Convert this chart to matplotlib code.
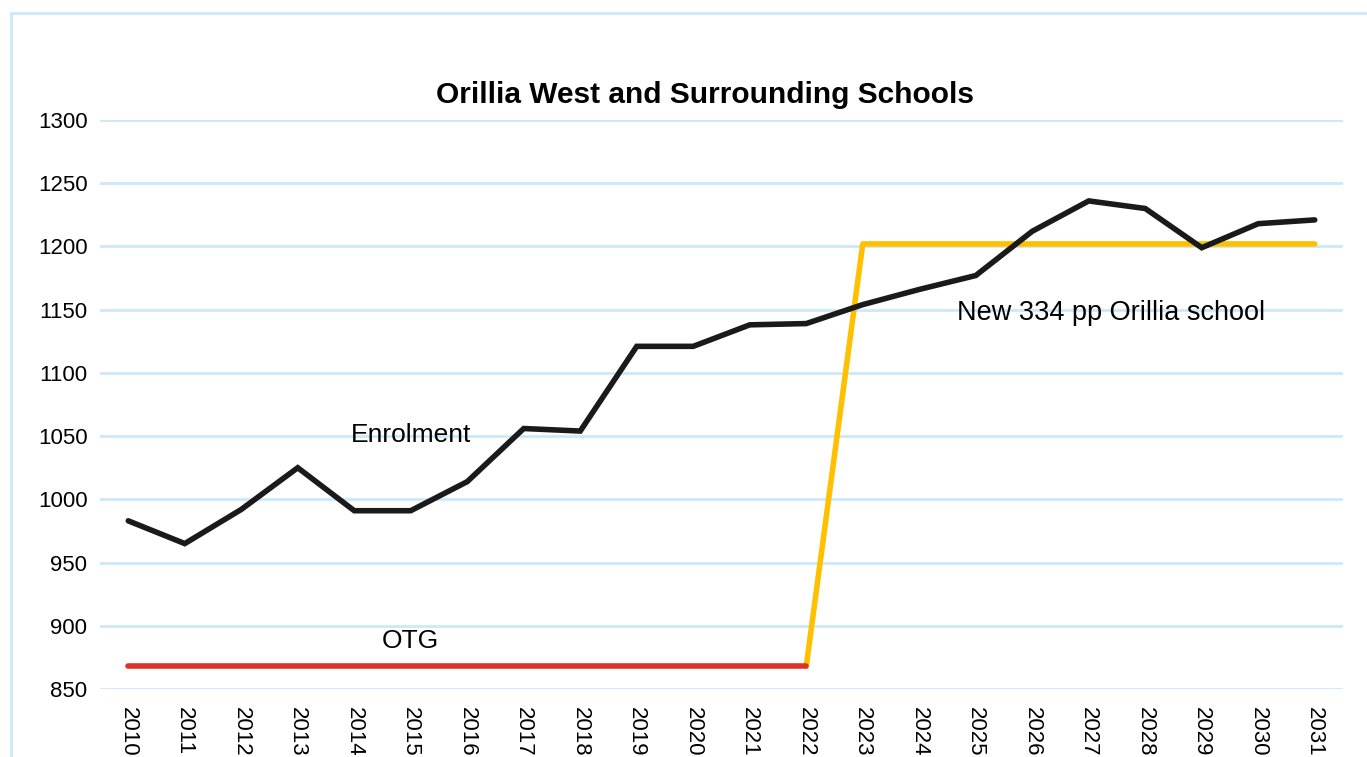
import numpy as np
import matplotlib.pyplot as plt
from matplotlib.patches import Rectangle

plt.rcParams['font.family'] = ['Liberation Sans', 'DejaVu Sans']

years = [str(y) for y in range(2010, 2032)]
enrolment = [983, 965, 992, 1025, 991, 991, 1014, 1056, 1054, 1121, 1121,
             1138, 1139, 1154, 1166, 1177, 1212, 1236, 1230, 1199, 1218, 1221]
otg = [868] * 13          # 2010-2022
new_cap = [868] + [1202] * 9   # 2022-2031

fig = plt.figure(figsize=(13.67, 7.57), dpi=100)
ax = fig.add_axes([100 / 1367, 1 - 689 / 757, 1243 / 1367, 569 / 757])

# chart-area border (runs off the right and bottom of the picture)
fig.patches.append(Rectangle((11 / 1367, -0.1), 1.2, 1 - 13 / 757 + 0.1,
                             transform=fig.transFigure, fill=False,
                             edgecolor='#cce8fa', linewidth=2, clip_on=False))

x = np.arange(len(years))
ax.plot(x[12:], new_cap, color='#ffc000', linewidth=4, solid_capstyle='round', zorder=3)
ax.plot(x[:13], otg, color='#de3229', linewidth=4, solid_capstyle='round', zorder=3)
ax.plot(x, enrolment, color='#1a1a1a', linewidth=4, solid_capstyle='round',
        solid_joinstyle='miter', zorder=4)

ax.set_xlim(-0.5, len(years) - 0.5)
ax.set_ylim(850, 1300)
ax.set_yticks(np.arange(850, 1301, 50))
ax.set_xticks(x)
ax.set_xticklabels(years, rotation=-90)
ax.tick_params(axis='y', length=0, labelsize=16, pad=9)
ax.tick_params(axis='x', length=0, labelsize=16, pad=13)
ax.grid(axis='y', color='#cce8fa', linewidth=2)
ax.set_axisbelow(True)
for s in ax.spines.values():
    s.set_visible(False)

ax.text(5, 1051, 'Enrolment', fontsize=19, ha='center', va='center')
ax.text(5, 888, 'OTG', fontsize=19, ha='center', va='center')
ax.text(17.4, 1147, 'New 334 pp Orillia school', fontsize=19.5, ha='center', va='center')

fig.text(705 / 1367, 1 - 95 / 757, 'Orillia West and Surrounding Schools',
         fontsize=21.5, fontweight='bold', ha='center', va='center')

fig.savefig('out.png', dpi=100)
